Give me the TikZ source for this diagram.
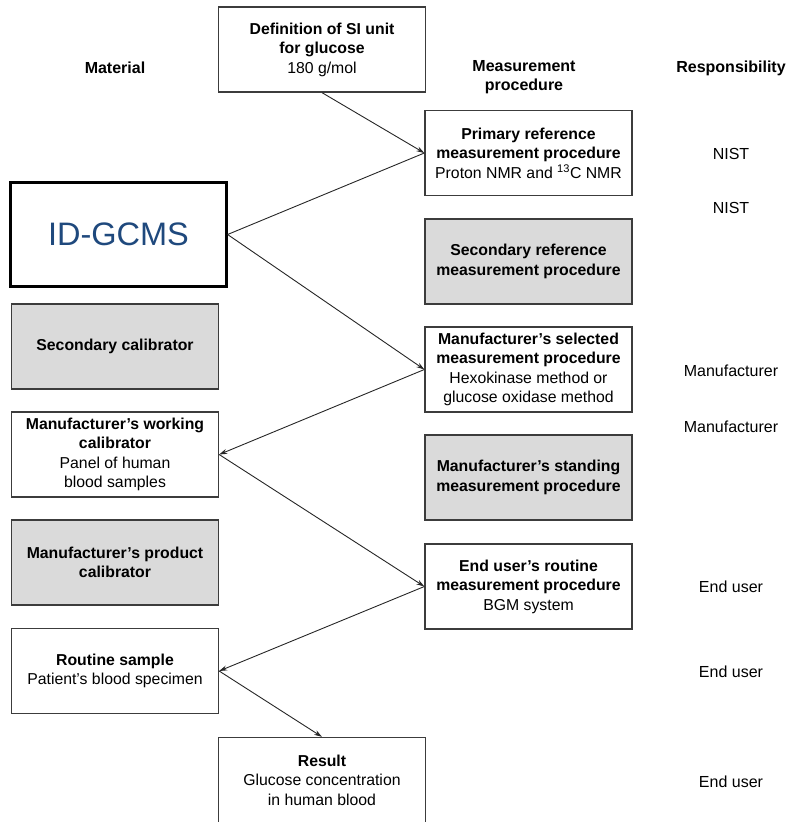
\documentclass[tikz,border=0pt]{standalone}
\usepackage{fontspec}
\setmainfont{Liberation Sans}
\usetikzlibrary{arrows.meta}
\definecolor{idblue}{RGB}{31,73,125}
\definecolor{boxline}{RGB}{60,60,60}
\definecolor{greyfill}{RGB}{218,218,218}
\begin{document}
\begin{tikzpicture}[x=1pt,y=1pt,
  box/.style={draw=boxline,line width=1.3pt,fill=white,minimum width=207pt,minimum height=85pt,align=center,inner sep=2pt,
     font=\fontsize{15.8}{19.5}\selectfont},
  greybox/.style={box,fill=greyfill},
  hdr/.style={font=\fontsize{16}{19}\selectfont\bfseries,align=center},
  resp/.style={font=\fontsize{16}{18}\selectfont},
  conn/.style={draw=black!85,line width=0.9pt,-{Stealth[length=8pt,width=5pt]}},
  plain/.style={draw=black!85,line width=0.9pt}]
\useasboundingbox (0,0) rectangle (788,-822);
% headers
\node[hdr] (hmat) at (115,-68) {Material};
\node[hdr] (hmeas) at (524,-77.5) {Measurement\\procedure};
\node[hdr] (hresp) at (731,-68) {Responsibility};
% boxes
\node[box] (top) at (322,-49.5) {\textbf{Definition of SI unit}\\\textbf{for glucose}\\180 g/mol};
\node[box] (prim) at (528.5,-153) {\textbf{Primary reference}\\\textbf{measurement procedure}\\Proton NMR and \textsuperscript{13}C NMR};
\node[draw=black,line width=2.2pt,fill=white,minimum width=216pt,minimum height=104pt,text=idblue,font=\fontsize{32.5}{36}\selectfont] (id) at (118.5,-234.5) {ID-GCMS};
\node[greybox] (secref) at (528.5,-261.5) {\textbf{Secondary reference}\\\textbf{measurement procedure}};
\node[greybox] (seccal) at (115,-346.5) {\textbf{Secondary calibrator}};
\node[box] (sel) at (528.5,-369.5) {\textbf{Manufacturer's selected}\\\textbf{measurement procedure}\\Hexokinase method or\\glucose oxidase method};
\node[box] (work) at (115,-454.5) {\textbf{Manufacturer's working}\\\textbf{calibrator}\\Panel of human\\blood samples};
\node[greybox] (stand) at (528.5,-477.5) {\textbf{Manufacturer's standing}\\\textbf{measurement procedure}};
\node[greybox] (prod) at (115,-562.5) {\textbf{Manufacturer's product}\\\textbf{calibrator}};
\node[box] (endu) at (528.5,-586.5) {\textbf{End user's routine}\\\textbf{measurement procedure}\\BGM system};
\node[box] (rout) at (115,-671) {\textbf{Routine sample}\\Patient's blood specimen};
\node[box] (res) at (322,-780) {\textbf{Result}\\Glucose concentration\\in human blood};
% responsibility
\node[resp] (r1) at (731,-154) {NIST};
\node[resp] (r2) at (731,-208) {NIST};
\node[resp] (r3) at (731,-371) {Manufacturer};
\node[resp] (r4) at (731,-427) {Manufacturer};
\node[resp] (r5) at (731,-587) {End user};
\node[resp] (r6) at (731,-672) {End user};
\node[resp] (r7) at (731,-782) {End user};
% connectors
\draw[conn] (top.south) -- (prim.west);
\draw[plain] (id.east) -- (prim.west);
\draw[conn] (id.east) -- (sel.west);
\draw[conn] (sel.west) -- (work.east);
\draw[conn] (work.east) -- (endu.west);
\draw[conn] (endu.west) -- (rout.east);
\draw[conn] (rout.east) -- (res.north);
\end{tikzpicture}
\end{document}
